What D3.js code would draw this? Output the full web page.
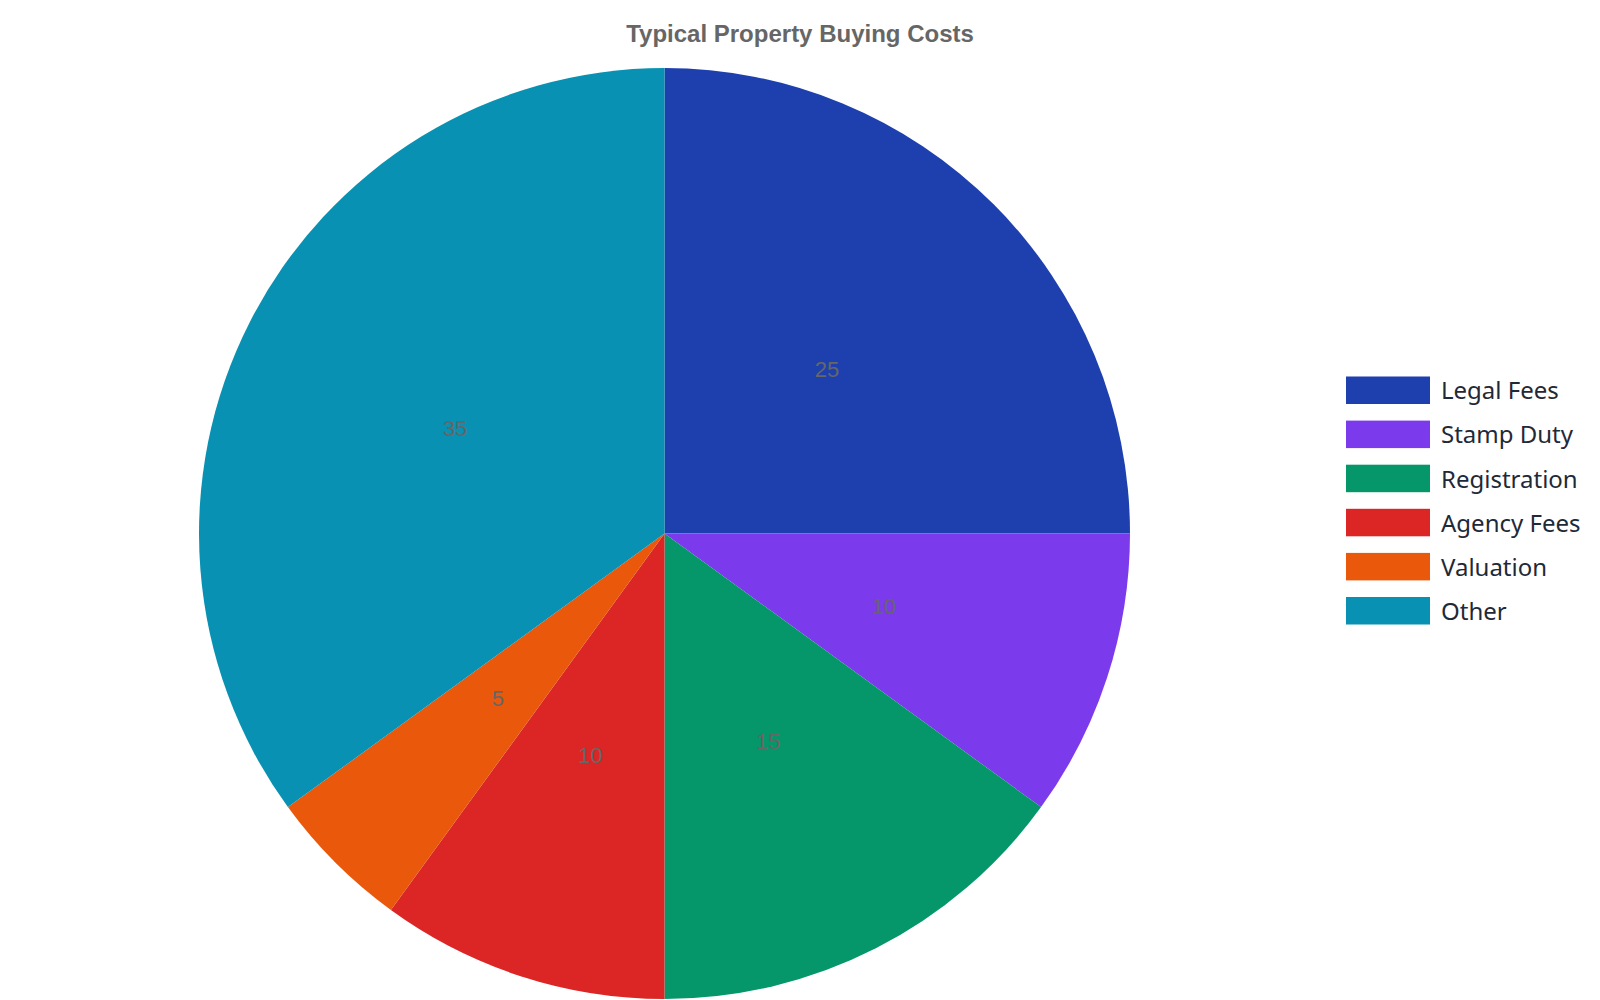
<!DOCTYPE html>
<html>
<head>
<meta charset="utf-8">
<script src="https://cdn.jsdelivr.net/npm/d3@7"></script>
<style>
  html, body { margin: 0; padding: 0; background: #ffffff; }
  svg { display: block; }
</style>
</head>
<body>
<svg id="chart" width="1600" height="1000"></svg>
<script>
const title = "Typical Property Buying Costs";
const categories = ["Legal Fees", "Stamp Duty", "Registration", "Agency Fees", "Valuation", "Other"];
const values = [25, 10, 15, 10, 5, 35];
const colors = ["#1e40af", "#7c3aed", "#059669", "#dc2626", "#ea580c", "#0891b2"];

const svg = d3.select("#chart");
const cx = 664.5, cy = 533.5, radius = 465.5;

const data = categories.map((c, i) => ({ name: c, value: values[i] }));
const color = d3.scaleOrdinal().domain(categories).range(colors);

const pie = d3.pie().value(d => d.value).sort(null);
const arc = d3.arc().innerRadius(0).outerRadius(radius);
const labelArc = d3.arc().innerRadius(radius / 2).outerRadius(radius / 2);

const g = svg.append("g").attr("transform", `translate(${cx},${cy})`);
const arcs = pie(data);

g.selectAll("path.slice")
  .data(arcs)
  .enter().append("path")
  .attr("class", "slice")
  .attr("d", arc)
  .attr("fill", d => color(d.data.name));

g.selectAll("text.lbl")
  .data(arcs)
  .enter().append("text")
  .attr("class", "lbl")
  .attr("transform", d => `translate(${labelArc.centroid(d)})`)
  .attr("text-anchor", "middle")
  .attr("dx", -2)
  .attr("dy", "0.38em")
  .style("font-family", "'Liberation Sans', Arial, sans-serif")
  .style("font-size", "22px")
  .style("fill", "#666666")
  .text(d => d.data.value);

svg.append("text")
  .attr("x", 800)
  .attr("y", 42)
  .attr("text-anchor", "middle")
  .style("font-family", "'Liberation Sans', Arial, sans-serif")
  .style("font-weight", "bold")
  .style("font-size", "24px")
  .style("fill", "#666666")
  .text(title);

const legend = svg.append("g").attr("transform", "translate(1346,376.5)");
const rowH = 44.1;
const item = legend.selectAll("g.item")
  .data(categories)
  .enter().append("g")
  .attr("class", "item")
  .attr("transform", (d, i) => `translate(0,${i * rowH})`);

item.append("rect")
  .attr("width", 84)
  .attr("height", 27.5)
  .attr("fill", d => color(d));

item.append("text")
  .attr("x", 95)
  .attr("y", 13.75)
  .attr("dy", "0.38em")
  .style("font-family", "'Noto Sans', sans-serif")
  .style("font-size", "24px")
  .style("fill", "#1f2937")
  .text(d => d);
</script>
</body>
</html>
